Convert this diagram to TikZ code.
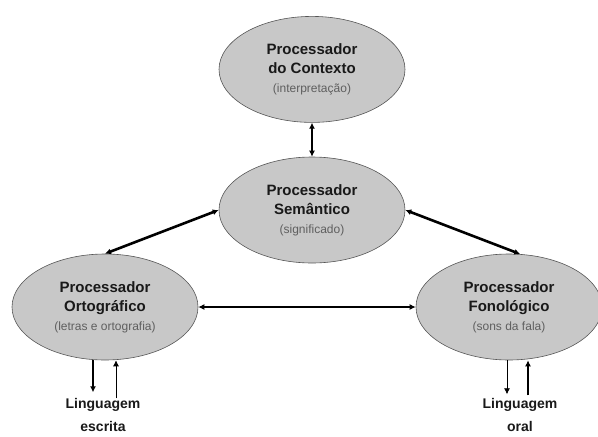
\documentclass[tikz,border=0pt]{standalone}
\usepackage{fontspec}
\setmainfont{Liberation Sans}
\usetikzlibrary{positioning,shapes.geometric,arrows.meta}
\definecolor{procfill}{RGB}{200,200,200}
\definecolor{procline}{RGB}{85,85,85}
\definecolor{subgray}{RGB}{95,95,95}
\tikzset{
	diagram/.style={>={Latex[length=6pt,width=6pt]},x=1pt,y=-1pt,node distance=34pt},
	proc/.style={ellipse,draw=procline,line width=0.6pt,fill=procfill,minimum width=186pt,
		minimum height=106pt,inner sep=1pt,align=center,text=black!90,
		font=\bfseries\fontsize{15}{19}\selectfont},
	lang/.style={align=center,inner sep=0pt,text=black!90,font=\bfseries\fontsize{14}{23}\selectfont},
	strong link/.style={<->,line width=2.6pt},
	link/.style={<->,line width=1.8pt},
	thick in/.style={->,line width=1.5pt},
	thin in/.style={->,line width=0.8pt}
}
\newcommand{\subtxt}[1]{{\mdseries\fontsize{12}{19}\selectfont\color{subgray}#1}}

\begin{document}
\begin{tikzpicture}[diagram]
	\useasboundingbox (0,0) rectangle (598,437);
	
	\node[proc] (sem) at (312,210) {Processador\\Semântico\\\subtxt{(significado)}};
	\node[proc] (ctx) [above= of sem] {Processador\\do Contexto\\\subtxt{(interpretação)}};
	\node[proc] (orto) at (105,307) {Processador\\Ortográfico\\\subtxt{(letras e ortografia)}};
	\node[proc] (fono) at (509,307) {Processador\\Fonológico\\\subtxt{(sons da fala)}};
	\node[lang] (escr) [below=38pt of orto, xshift=-2pt] {Linguagem\\escrita};
	\node[lang] (oral) [below=38pt of fono, xshift=11pt] {Linguagem\\oral};
	
	\path[strong link] (ctx) edge (sem);
	\path[strong link] (sem.west) edge (orto.north);
	\path[strong link] (sem.east) edge (fono.78);
	\path[link] (orto) edge (fono);
	
	% entradas e saidas
	\coordinate (e1) at ([xshift=-10pt,yshift=6pt]escr.north);
	\coordinate (e2) at ([xshift=13pt,yshift=0pt]escr.north);
	\coordinate (o1) at ([xshift=-13pt,yshift=4pt]oral.north);
	\coordinate (o2) at ([xshift=8pt,yshift=3pt]oral.north);
	\draw[thick in] (e1 |- orto.south) -- (e1);
	\draw[thin in] (e2) -- (e2 |- orto.south);
	\draw[thin in] (o1 |- fono.south) -- (o1);
	\draw[thick in] (o2) -- (o2 |- fono.south);
\end{tikzpicture}
\end{document}
